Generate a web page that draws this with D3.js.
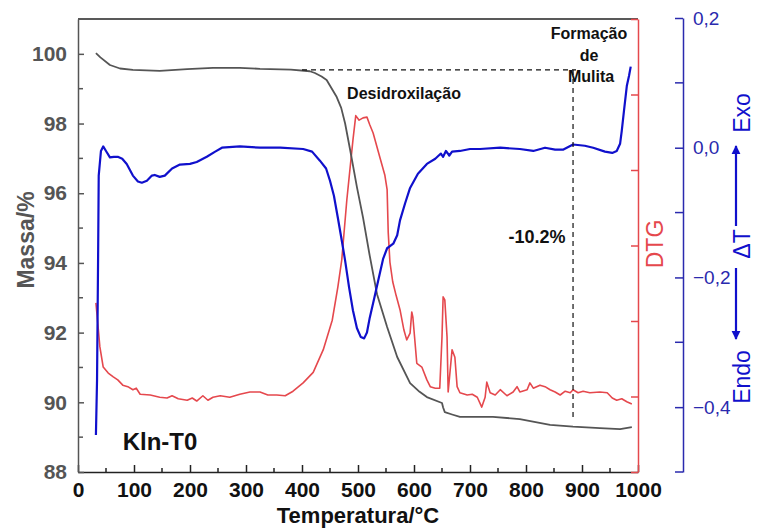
<!DOCTYPE html>
<html>
<head>
<meta charset="utf-8">
<script src="https://cdn.jsdelivr.net/npm/d3@7"></script>
<style>
  body { margin: 0; background: #fff; }
  svg { font-family: "Liberation Sans", Arial, sans-serif; }
</style>
</head>
<body>
<svg id="chart" width="757" height="532"></svg>
<script>
// mass curve (TG), %
var massT = [32, 40, 57, 75, 98, 146, 195, 241, 289, 325, 380, 414, 423, 435, 444, 462, 470, 477, 486, 498,
  509, 521, 534, 552, 570, 593, 610, 623, 650, 652, 655, 668, 682, 741, 789, 843, 884, 932, 968, 989];
var massV = [100.02, 99.9, 99.68, 99.58, 99.54, 99.51, 99.56, 99.6, 99.6, 99.57, 99.55, 99.5, 99.45, 99.35, 99.25, 98.76, 98.45, 98.0, 97.24, 96.18,
  95.3, 94.2, 93.1, 92.16, 91.3, 90.55, 90.3, 90.15, 89.98, 89.85, 89.72, 89.65, 89.58, 89.58, 89.52, 89.35, 89.3, 89.26, 89.23, 89.29];

// DTA curve (delta T)
var dtaT = [32, 34, 36, 37, 41, 45, 50, 57, 64, 71, 79, 87, 98, 107, 114, 123, 132, 137, 146, 155,
  168, 182, 200, 212, 230, 245, 257, 289, 325, 361, 402, 418, 432, 443, 450, 457, 464, 471, 477, 484,
  491, 498, 505, 511, 516, 521, 529, 536, 545, 552, 563, 570, 575, 584, 593, 607, 623, 638, 648, 652,
  657, 663, 668, 682, 700, 718, 754, 789, 813, 834, 852, 866, 884, 905, 920, 941, 954, 962, 968, 971,
  975, 980, 984, 987];
var dtaV = [-0.443, -0.358, -0.158, -0.043, -0.005, 0.002, -0.005, -0.015, -0.014, -0.014, -0.017, -0.025, -0.043, -0.052, -0.054, -0.051, -0.043, -0.042, -0.045, -0.043,
  -0.032, -0.026, -0.025, -0.022, -0.014, -0.006, 0.0, 0.002, 0.0, 0.0, -0.002, -0.006, -0.02, -0.032, -0.051, -0.074, -0.108, -0.143, -0.174, -0.215,
  -0.251, -0.278, -0.292, -0.294, -0.285, -0.262, -0.232, -0.205, -0.171, -0.155, -0.148, -0.135, -0.112, -0.086, -0.062, -0.04, -0.025, -0.017, -0.009, -0.014,
  -0.005, -0.012, -0.006, -0.005, -0.002, -0.002, 0.0, -0.002, -0.005, 0.0, -0.003, -0.003, 0.005, 0.003, 0.0, -0.006, -0.008, -0.005, 0.006, 0.026,
  0.057, 0.095, 0.111, 0.125];

// DTG curve (arbitrary units, one unit per red tick)
var dtgT = [32, 34, 39, 45, 54, 63, 71, 80, 89, 98, 104, 111, 129, 146, 159, 168, 179, 195, 204, 212,
  223, 232, 241, 254, 271, 289, 307, 325, 339, 355, 370, 384, 402, 420, 438, 454, 464, 471, 480, 491,
  496, 502, 509, 516, 521, 527, 539, 548, 552, 554, 557, 562, 568, 575, 582, 587, 593, 596, 598, 605,
  614, 623, 629, 638, 646, 650, 652, 655, 659, 661, 668, 673, 677, 682, 695, 704, 713, 721, 727, 730,
  736, 745, 754, 766, 777, 784, 789, 802, 807, 813, 825, 834, 843, 852, 861, 870, 879, 884, 893, 902,
  914, 932, 945, 954, 962, 971, 980, 989];
var dtgV = [2.24, 2.08, 1.66, 1.39, 1.31, 1.26, 1.22, 1.15, 1.13, 1.09, 1.11, 1.03, 1.02, 0.99, 0.98, 1.01, 0.97, 0.95, 0.98, 0.94,
  1.01, 0.95, 0.99, 1.01, 0.99, 1.03, 1.06, 1.06, 1.02, 1.02, 1.01, 1.07, 1.18, 1.32, 1.62, 2.01, 2.45, 2.81, 3.6, 4.4,
  4.72, 4.66, 4.69, 4.7, 4.6, 4.49, 4.17, 3.93, 3.74, 3.17, 2.78, 2.52, 2.34, 2.15, 1.88, 1.75, 1.84, 2.12, 2.05, 1.44,
  1.39, 1.22, 1.13, 1.11, 1.11, 1.79, 2.32, 2.28, 1.79, 1.06, 1.62, 1.52, 1.13, 1.05, 1.02, 1.03, 0.99, 0.86, 0.99, 1.19,
  1.05, 1.02, 1.09, 1.01, 1.06, 1.13, 1.06, 1.09, 1.18, 1.11, 1.15, 1.13, 1.09, 1.06, 1.02, 1.07, 1.05, 1.09, 1.05, 1.07,
  1.05, 1.06, 1.05, 0.98, 0.95, 0.97, 0.93, 0.90];

// axis ticks
var xTicks = [0, 100, 200, 300, 400, 500, 600, 700, 800, 900, 1000];
var massTicks = [88, 90, 92, 94, 96, 98, 100];
var dtaTicks = [0.2, 0.0, -0.2, -0.4];

// mass-loss guide: plateau level, start and end temperatures, final mass
var guideMass = 99.54, guideStart = 400, guideEnd = 884, guideLow = 89.47;

var W = 757, H = 532,
    plotL = 78, plotR = 638, plotT = 19, plotB = 472;

var svg = d3.select("#chart");

var x = d3.scaleLinear().domain([0, 1000]).range([plotL, plotR]);
var yMass = d3.scaleLinear().domain([88, 101]).range([plotB, plotT]);
var yDtg = d3.scaleLinear().domain([0, 6]).range([plotB, plotT]);
var yDta = d3.scaleLinear().domain([-0.5, 0.2]).range([plotB, 18]);

var grey = "#555555", red = "#e5484d", blue = "#1010cc", blueAxis = "#2a2aae";

// top frame line
svg.append("line")
  .attr("x1", plotL).attr("x2", plotR).attr("y1", plotT).attr("y2", plotT)
  .attr("stroke", "#222").attr("stroke-width", 1.5);

// bottom axis
var xAxis = svg.append("g")
  .attr("transform", "translate(0," + plotB + ")")
  .call(d3.axisBottom(x).tickValues(xTicks).tickSize(-7).tickSizeOuter(0).tickPadding(10).tickFormat(d3.format("d")));
xAxis.append("g").selectAll("line")
  .data(d3.range(50, 1000, 100)).enter().append("line")
  .attr("x1", x).attr("x2", x).attr("y1", 0).attr("y2", -4).attr("stroke", "#222");
xAxis.selectAll("path, line").attr("stroke", "#222").attr("stroke-width", 1.5);
xAxis.selectAll("text").attr("font-size", 21).attr("font-weight", "bold").attr("fill", "#111")
  .attr("font-family", "Liberation Sans, Arial, sans-serif");

// left axis (mass)
var yAxis = svg.append("g")
  .attr("transform", "translate(" + plotL + ",0)")
  .call(d3.axisLeft(yMass).tickValues(massTicks).tickSize(-6).tickSizeOuter(0).tickPadding(11));
yAxis.append("g").selectAll("line")
  .data([89, 91, 93, 95, 97, 99]).enter().append("line")
  .attr("y1", yMass).attr("y2", yMass).attr("x1", 0).attr("x2", 5).attr("stroke", grey);
yAxis.selectAll("path, line").attr("stroke", grey).attr("stroke-width", 1.5);
yAxis.selectAll("text").attr("font-size", 21).attr("font-weight", "bold").attr("fill", grey)
  .attr("font-family", "Liberation Sans, Arial, sans-serif");

// red DTG axis
var dtgAxis = svg.append("g")
  .attr("transform", "translate(" + plotR + ",0)")
  .call(d3.axisRight(yDtg).tickValues(d3.range(0, 7)).tickSize(-7).tickSizeOuter(0).tickFormat(""));
dtgAxis.selectAll("path, line").attr("stroke", red).attr("stroke-width", 1.5);

// blue DTA axis
var dtaAxis = svg.append("g")
  .attr("transform", "translate(683,0)")
  .call(d3.axisRight(yDta).tickValues(dtaTicks).tickSize(-8).tickSizeOuter(0).tickPadding(10)
    .tickFormat(function(d) { return (d < 0 ? "\u2212" : "") + Math.abs(d).toFixed(1).replace(".", ","); }));
dtaAxis.append("g").selectAll("line")
  .data([0.1, -0.1, -0.3, -0.5]).enter().append("line")
  .attr("y1", yDta).attr("y2", yDta).attr("x1", 0).attr("x2", -8).attr("stroke", blueAxis);
dtaAxis.selectAll("path, line").attr("stroke", blueAxis).attr("stroke-width", 1.5);
dtaAxis.selectAll("text").attr("font-size", 19).attr("fill", blueAxis)
  .attr("font-family", "Liberation Sans, Arial, sans-serif");

// curves
function series(T, V, ys) {
  return d3.line().x(function(d, i) { return x(T[i]); }).y(function(d) { return ys(d); })(V);
}
svg.append("path").attr("d", series(dtgT, dtgV, yDtg))
  .attr("fill", "none").attr("stroke", red).attr("stroke-width", 1.6).attr("stroke-linejoin", "round");
svg.append("path").attr("d", series(massT, massV, yMass))
  .attr("fill", "none").attr("stroke", grey).attr("stroke-width", 1.8).attr("stroke-linejoin", "round");
svg.append("path").attr("d", series(dtaT, dtaV, yDta))
  .attr("fill", "none").attr("stroke", blue).attr("stroke-width", 2.2).attr("stroke-linejoin", "round");

// dashed guides
svg.append("line")
  .attr("x1", x(guideStart)).attr("x2", x(guideEnd) + 3)
  .attr("y1", yMass(guideMass)).attr("y2", yMass(guideMass))
  .attr("stroke", "#111").attr("stroke-width", 1.2).attr("stroke-dasharray", "5,4");
svg.append("line")
  .attr("x1", x(guideEnd)).attr("x2", x(guideEnd))
  .attr("y1", yMass(guideMass)).attr("y2", yMass(guideLow))
  .attr("stroke", "#111").attr("stroke-width", 1.2).attr("stroke-dasharray", "5,4");

// annotations
var notes = svg.append("g").attr("font-weight", "bold").attr("fill", "#111");
notes.append("text").attr("x", 404).attr("y", 99).attr("text-anchor", "middle").attr("font-size", 16).text("Desidroxilação");
notes.append("text").attr("x", 589).attr("y", 39).attr("text-anchor", "middle").attr("font-size", 16).text("Formação");
notes.append("text").attr("x", 589).attr("y", 61).attr("text-anchor", "middle").attr("font-size", 16).text("de");
notes.append("text").attr("x", 591).attr("y", 82).attr("text-anchor", "middle").attr("font-size", 16).text("Mulita");
notes.append("text").attr("x", 537).attr("y", 243).attr("text-anchor", "middle").attr("font-size", 18).text("-10.2%");
notes.append("text").attr("x", 160).attr("y", 450).attr("text-anchor", "middle").attr("font-size", 24).text("Kln-T0");

// axis titles
svg.append("text").attr("x", 358).attr("y", 523).attr("text-anchor", "middle")
  .attr("font-size", 22).attr("font-weight", "bold").attr("fill", "#111").text("Temperatura/°C");
svg.append("text").attr("transform", "translate(34,240) rotate(-90)").attr("text-anchor", "middle")
  .attr("font-size", 23).attr("font-weight", "bold").attr("fill", grey).text("Massa/%");
svg.append("text").attr("transform", "translate(663,244) rotate(-90)").attr("text-anchor", "middle")
  .attr("font-size", 23).attr("fill", red).text("DTG");

var rt = svg.append("g").attr("fill", blue).attr("font-size", 23);
rt.append("text").attr("transform", "translate(750,113) rotate(-90)").attr("text-anchor", "middle").text("Exo");
rt.append("text").attr("transform", "translate(750,244) rotate(-90)").attr("text-anchor", "middle").text("\u0394T");
rt.append("text").attr("transform", "translate(750,377) rotate(-90)").attr("text-anchor", "middle").text("Endo");

// arrows
svg.append("defs").append("marker")
  .attr("id", "arr").attr("viewBox", "0 0 10 10").attr("refX", 9).attr("refY", 5)
  .attr("markerWidth", 4).attr("markerHeight", 5).attr("orient", "auto")
  .append("path").attr("d", "M0,0L10,5L0,10z").attr("fill", blue);
svg.append("line").attr("x1", 736).attr("x2", 736).attr("y1", 226).attr("y2", 146)
  .attr("stroke", blue).attr("stroke-width", 2.2).attr("marker-end", "url(#arr)");
svg.append("line").attr("x1", 736).attr("x2", 736).attr("y1", 268).attr("y2", 339)
  .attr("stroke", blue).attr("stroke-width", 2.2).attr("marker-end", "url(#arr)");
</script>
</body>
</html>
